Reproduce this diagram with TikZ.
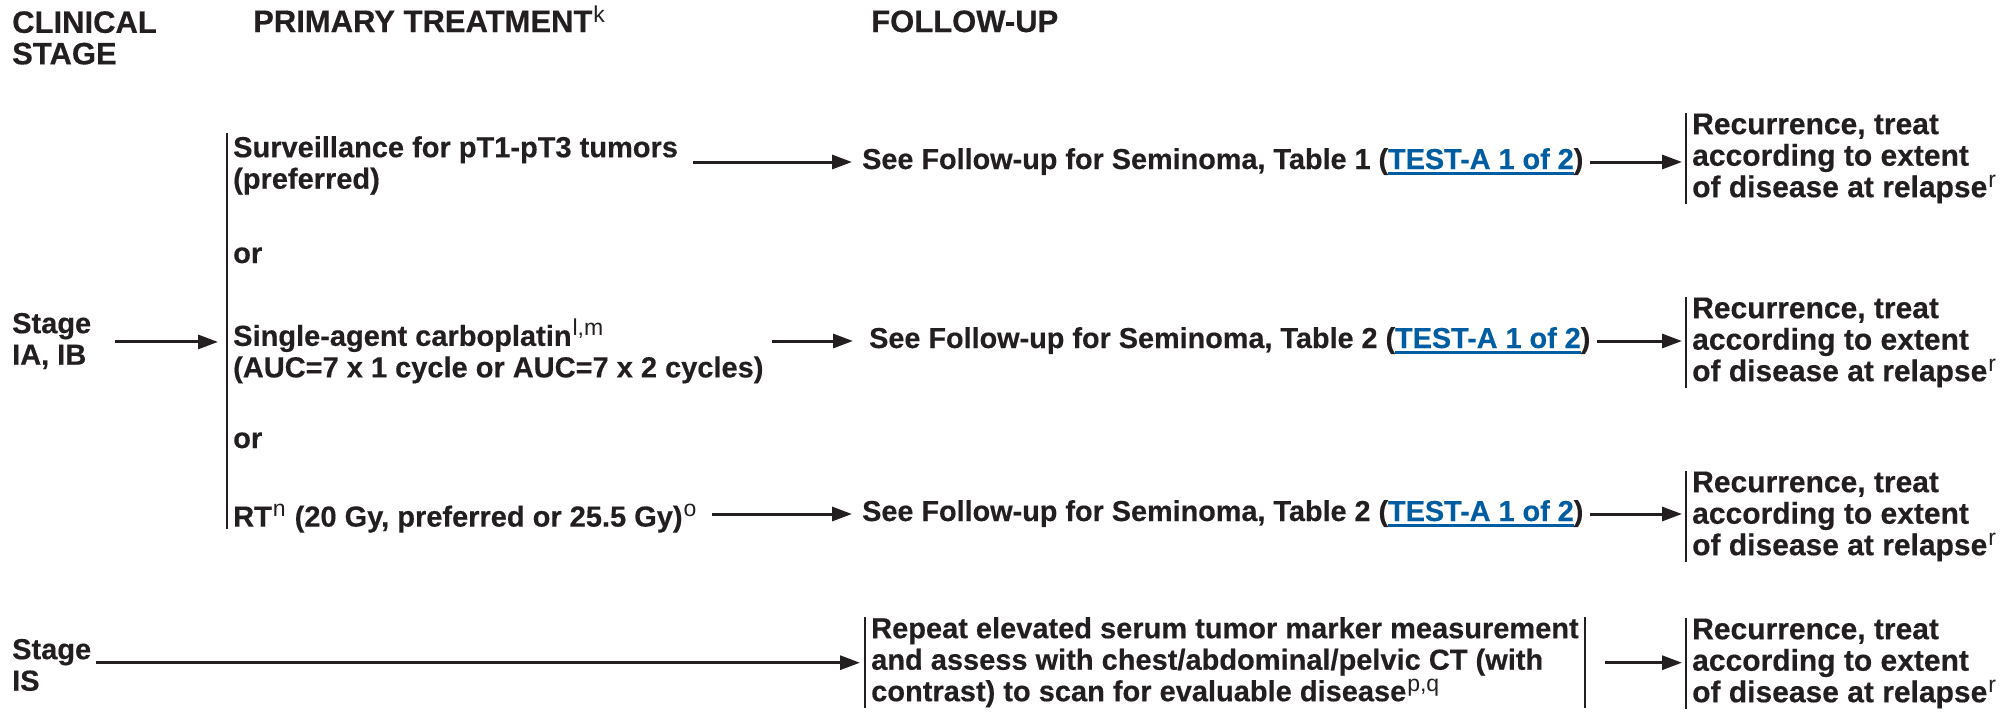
\documentclass[tikz,border=0pt]{standalone}
\usepackage{fontspec}
\setmainfont{Liberation Sans}[BoldFeatures={FakeBold=0.4}]
\usetikzlibrary{arrows.meta}
\definecolor{ink}{RGB}{35,31,32}
\definecolor{linkblue}{RGB}{0,93,162}
% superscript footnote letters
\newcommand\sps[1]{\kern1pt\relax\raisebox{10pt}{\fontsize{23}{23}\selectfont\mdseries #1}\kern1pt\relax}
% underlined cross-reference
\newcommand\lnk[1]{{\color{linkblue}\setbox0=\hbox{#1}\rlap{\rule[-5.5pt]{\wd0}{2.2pt}}\box0}}
\newcommand\topstrut{\rule{0pt}{21pt}}
\newcommand\botstrut{\rule[-7pt]{0pt}{7pt}}
\tikzset{
  basefont/.style={font=\fontsize{29}{31.5}\selectfont\bfseries, text=ink},
  headfont/.style={font=\fontsize{31}{31.5}\selectfont\bfseries},
  fufont/.style={font=\fontsize{28.8}{31.5}\selectfont\bfseries},
  recfont/.style={font=\fontsize{30}{31.5}\selectfont\bfseries},
  txt/.style={basefont, inner sep=0pt, anchor=base west, text height=21pt, text depth=7pt},
  block/.style={basefont, inner sep=0pt, anchor=north west, align=left},
  bblock/.style={block, inner xsep=6pt},
  bar/.style={draw=ink, line width=2.4pt},
  arr/.style={draw=ink, line width=3pt, -{Triangle[length=20pt,width=14pt]}},
}
\begin{document}
\begin{tikzpicture}[x=1pt,y=-1pt]
\useasboundingbox (0,0) rectangle (2015,712);

% column headings
\node[block, headfont] (clin) at (12,11) {\topstrut CLINICAL\\STAGE};
\node[txt, headfont] (prim) at (253,32) {PRIMARY TREATMENT\sps{k}};
\node[txt, headfont] (fol) at (871,32) {FOLLOW-UP};

% clinical stages
\node[block] (stA) at (12,312) {\topstrut Stage\\IA, IB\botstrut};
\node[block] (stS) at (12,638) {\topstrut Stage\\IS\botstrut};

% primary treatment options
\node[bblock] (surv) at (227,136) {\topstrut Surveillance for pT1-pT3 tumors\\(preferred)\botstrut};
\node[txt] (or1) at (233,263) {or};
\node[bblock] (carb) at (227,319) {\topstrut Single-agent carboplatin\sps{l,m}\\(AUC=7 x 1 cycle or AUC=7 x 2 cycles)\botstrut};
\node[txt] (or2) at (233,448) {or};
\node[bblock] (rt) at (227,504) {\topstrut RT\sps{n} (20 Gy, preferred or 25.5 Gy)\sps{o}\botstrut};

% follow-up
\node[txt, fufont] (fu1) at (862,169) {See Follow-up for Seminoma, Table 1 (\lnk{TEST-A 1 of 2})};
\node[txt, fufont] (fu2) at (869,348) {See Follow-up for Seminoma, Table 2 (\lnk{TEST-A 1 of 2})};
\node[txt, fufont] (fu3) at (862,521) {See Follow-up for Seminoma, Table 2 (\lnk{TEST-A 1 of 2})};
\node[bblock] (rep) at (865,617) {\topstrut Repeat elevated serum tumor marker measurement\\and assess with chest/abdominal/pelvic CT (with\\contrast) to scan for evaluable disease\sps{p,q}\botstrut};

% recurrence
\node[bblock, recfont] (rec1) at (1686,113) {\topstrut Recurrence, treat\\according to extent\\of disease at relapse\sps{r}\botstrut};
\node[bblock, recfont] (rec2) at (1686,297) {\topstrut Recurrence, treat\\according to extent\\of disease at relapse\sps{r}\botstrut};
\node[bblock, recfont] (rec3) at (1686,471) {\topstrut Recurrence, treat\\according to extent\\of disease at relapse\sps{r}\botstrut};
\node[bblock, recfont] (rec4) at (1686,618) {\topstrut Recurrence, treat\\according to extent\\of disease at relapse\sps{r}\botstrut};

% brackets
\draw[bar] ([yshift=3pt]surv.north west) -- ([yshift=5pt]rt.south west);
\draw[bar] (rep.north west) -- (rep.south west);
\draw[bar] (rep.north east) -- (rep.south east);
\foreach \r in {rec1,rec2,rec3,rec4}
  \draw[bar] (\r.north west) -- (\r.south west);

% connectors
\draw[arr, shorten <=24pt, shorten >=9pt] (stA.east) -- (stA.east -| surv.west);
\draw[arr, shorten <=9pt, shorten >=10pt] (surv.east |- fu1.west) -- (fu1.west);
\draw[arr, shorten <=2pt, shorten >=16pt] (carb.east |- fu2.west) -- (fu2.west);
\draw[arr, shorten <=8pt, shorten >=10pt] (rt.east |- fu3.west) -- (fu3.west);
\draw[arr, shorten <=6pt, shorten >=4pt] (fu1.east) -- (fu1.east -| rec1.west);
\draw[arr, shorten <=6pt, shorten >=4pt] (fu2.east) -- (fu2.east -| rec2.west);
\draw[arr, shorten <=6pt, shorten >=4pt] (fu3.east) -- (fu3.east -| rec3.west);
\draw[arr, shorten <=5pt, shorten >=5pt] (stS.east |- rep.west) -- (rep.west);
\draw[arr, shorten <=20pt, shorten >=4pt] (rep.east) -- (rep.east -| rec4.west);
\end{tikzpicture}
\end{document}
